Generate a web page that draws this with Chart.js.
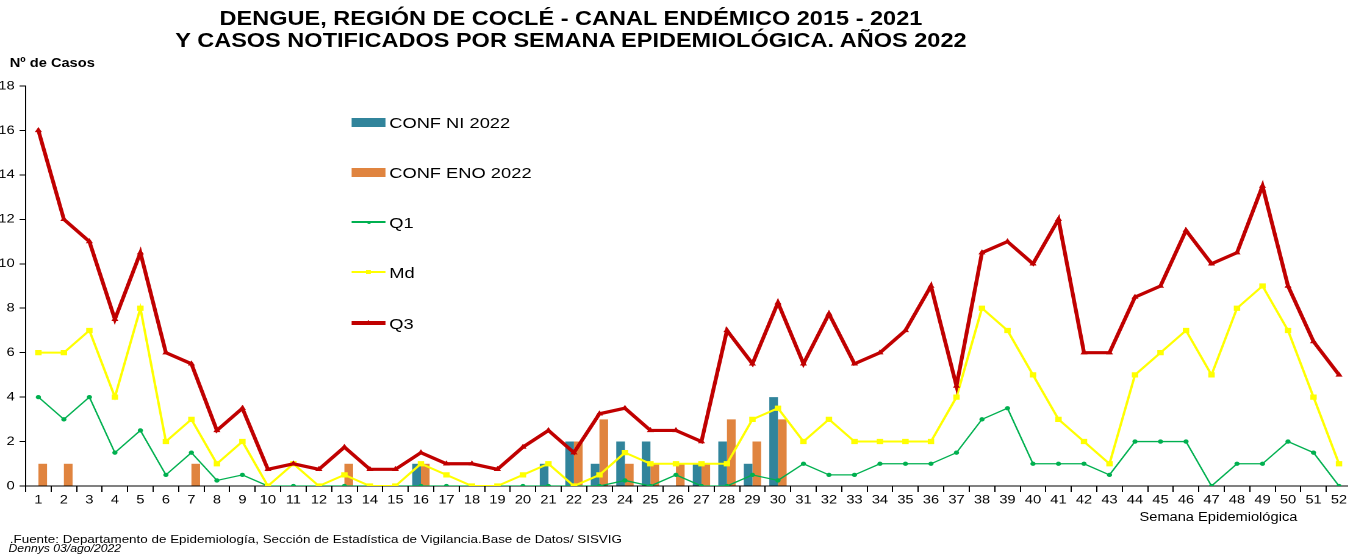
<!DOCTYPE html>
<html lang="es">
<head>
<meta charset="utf-8">
<title>Dengue Coclé - Canal endémico 2022</title>
<script src="https://cdn.jsdelivr.net/npm/chart.js@4.4.1/dist/chart.umd.min.js"></script>
<style>
    html, body { margin: 0; padding: 0; background: #fff; overflow: hidden; }
    body { width: 1348px; height: 555px; font-family: Arial, "Liberation Sans", sans-serif; color: #000; }
    /* la imagen original está estirada a lo ancho */
    #hoja { position: absolute; left: 0; top: 0; width: 1105px; height: 555px; transform: scaleX(1.22); transform-origin: 0 0; }
    #titulo { position: absolute; left: 0; top: 8px; width: 936px; text-align: center; font-weight: bold; font-size: 19.3px; line-height: 22px; }
    #ejeY { position: absolute; left: 8px; top: 56px; font-weight: bold; font-size: 12px; }
    #grafico { position: absolute; left: -8px; top: 0; width: 1122px; height: 555px; }
    #leyenda { position: absolute; left: 288px; top: 0; }
    .item { position: absolute; left: 0; height: 20px; display: flex; align-items: center; white-space: nowrap; font-size: 15px; }
    .muestra { position: relative; width: 28px; height: 9px; margin-right: 3px; display: flex; align-items: center; justify-content: center; }
    .linea { position: absolute; left: 0; width: 28px; }
    .marca { position: relative; }
    #ejeX { position: absolute; left: 934px; top: 510px; font-size: 12px; }
    #fuente { position: absolute; left: 8px; top: 533px; font-size: 11px; line-height: 12px; }
    #autor { position: absolute; left: 7px; top: 544px; font-style: italic; font-size: 10px; line-height: 10px; }
</style>
</head>
<body>
<div id="hoja">
    <div id="titulo">DENGUE, REGIÓN DE COCLÉ - CANAL ENDÉMICO 2015 - 2021<br>Y CASOS NOTIFICADOS POR SEMANA EPIDEMIOLÓGICA. AÑOS 2022</div>
    <div id="ejeY">Nº de Casos</div>
    <div id="grafico"><canvas id="canalChart"></canvas></div>
    <div id="leyenda"></div>
    <div id="ejeX">Semana Epidemiológica</div>
    <div id="fuente">.Fuente: Departamento de Epidemiología, Sección de Estadística de Vigilancia.Base de Datos/ SISVIG</div>
    <div id="autor">Dennys 03/ago/2022</div>
</div>

<script>
const semanas = ['1','2','3','4','5','6','7','8','9','10','11','12','13','14','15','16','17','18','19','20',
    '21','22','23','24','25','26','27','28','29','30','31','32','33','34','35','36','37','38','39','40',
    '41','42','43','44','45','46','47','48','49','50','51','52'];

const confNI = [0,0,0,0,0,0,0,0,0,0, 0,0,0,0,0,1,0,0,0,0, 1,2,1,2,2,0,1,2,1,4,
    0,0,0,0,0,0,0,0,0,0, 0,0,0,0,0,0,0,0,0,0, 0,0];
const confENO = [1,1,0,0,0,0,1,0,0,0, 0,0,1,0,0,1,0,0,0,0, 0,2,3,1,1,1,1,3,2,3,
    0,0,0,0,0,0,0,0,0,0, 0,0,0,0,0,0,0,0,0,0, 0,0];
const q1 = [4,3,4,1.5,2.5,0.5,1.5,0.25,0.5,0, 0,0,0,0,0,0,0,0,0,0, 0,0,0,0.25,0,0.5,0,0,0.5,0.25,
    1,0.5,0.5,1,1,1,1.5,3,3.5,1, 1,1,0.5,2,2,2,0,1,1,2, 1.5,0];
const mediana = [6,6,7,4,8,2,3,1,2,0, 1,0,0.5,0,0,1,0.5,0,0,0.5, 1,0,0.5,1.5,1,1,1,1,3,3.5,
    2,3,2,2,2,2,4,8,7,5, 3,2,1,5,6,7,5,8,9,7, 4,1];
const q3 = [16,12,11,7.5,10.5,6,5.5,2.5,3.5,0.75, 1,0.75,1.75,0.75,0.75,1.5,1,1,0.75,1.75,
    2.5,1.5,3.25,3.5,2.5,2.5,2,7,5.5,8.25, 5.5,7.75,5.5,6,7,9,4.5,10.5,11,10,
    12,6,6,8.5,9,11.5,10,10.5,13.5,9, 6.5,5];

const yMax = 18;
const yPaso = 2;

Chart.defaults.font.family = 'Arial, "Liberation Sans", sans-serif';
Chart.defaults.color = '#000';

let canalChart = null;

function crearGrafico() {
    const ctx = document.getElementById('canalChart').getContext('2d');
    const data = {
        labels: semanas,
        datasets: [
            {type: 'bar', label: 'CONF NI 2022', data: confNI, backgroundColor: '#31849B', order: 3,
                categoryPercentage: 0.68, barPercentage: 1},
            {type: 'bar', label: 'CONF ENO 2022', data: confENO, backgroundColor: '#E0843F', order: 3,
                categoryPercentage: 0.68, barPercentage: 1},
            {type: 'line', label: 'Q1', data: q1, borderColor: '#00B050', backgroundColor: '#00B050',
                borderWidth: 1.3, pointStyle: 'circle', pointRadius: 1.5, tension: 0, order: 2},
            {type: 'line', label: 'Md', data: mediana, borderColor: '#FFFF00', backgroundColor: '#FFFF00',
                borderWidth: 2, pointStyle: 'rect', pointRadius: 2.3, tension: 0, order: 1},
            {type: 'line', label: 'Q3', data: q3, borderColor: '#C00000', backgroundColor: '#C00000',
                borderWidth: 3.2, pointStyle: 'triangle', pointRadius: 2.4, pointBorderWidth: 1, tension: 0, order: 0}
        ]
    };
    const config = {
        type: 'bar',
        data: data,
        options: {
            responsive: true,
            maintainAspectRatio: false,
            animation: false,
            devicePixelRatio: 2,
            layout: {padding: {top: 86, left: 0, right: 0, bottom: 0}},
            plugins: {legend: {display: false}, tooltip: {enabled: false}},
            scales: {
                x: {
                    offset: true,
                    grid: {offset: true, drawOnChartArea: false, drawTicks: true, tickLength: 6, color: '#000'},
                    border: {display: true, color: '#000', width: 1},
                    ticks: {font: {size: 12}, padding: 1, maxRotation: 0, autoSkip: false},
                    afterFit: function(scale) { scale.height = 69; }
                },
                y: {
                    min: 0,
                    max: yMax,
                    grid: {drawOnChartArea: false, drawTicks: true, tickLength: 5, color: '#000'},
                    border: {display: true, color: '#000', width: 1},
                    ticks: {stepSize: yPaso, font: {size: 12}, padding: 4},
                    afterFit: function(scale) { scale.width = 29; }
                }
            }
        }
    };
    canalChart = new Chart(ctx, config);
    crearLeyenda(canalChart);
}

// leyenda dentro del área del gráfico, como en el original
function crearLeyenda(chart) {
    const cont = document.getElementById('leyenda');
    const posiciones = [122, 172, 222, 272, 323];
    chart.data.datasets.forEach(function(ds, i) {
        const item = document.createElement('div');
        item.className = 'item';
        item.style.top = (posiciones[i] - 10) + 'px';
        const muestra = document.createElement('span');
        muestra.className = 'muestra';
        if (ds.type === 'bar') {
            muestra.style.background = ds.backgroundColor;
        } else {
            const linea = document.createElement('span');
            linea.className = 'linea';
            linea.style.height = ds.borderWidth + 'px';
            linea.style.background = ds.borderColor;
            muestra.appendChild(linea);
            const marca = document.createElement('span');
            marca.className = 'marca';
            const r = ds.pointRadius;
            if (ds.pointStyle === 'triangle') {
                marca.style.width = '0';
                marca.style.height = '0';
                marca.style.top = '-1px';
                marca.style.borderLeft = (r + 1) + 'px solid transparent';
                marca.style.borderRight = (r + 1) + 'px solid transparent';
                marca.style.borderBottom = (r * 2.2) + 'px solid ' + ds.borderColor;
            } else {
                marca.style.width = (r * 2) + 'px';
                marca.style.height = (r * 2) + 'px';
                marca.style.background = ds.borderColor;
                if (ds.pointStyle === 'circle') marca.style.borderRadius = '50%';
            }
            muestra.appendChild(marca);
        }
        const texto = document.createElement('span');
        texto.textContent = ds.label;
        item.appendChild(muestra);
        item.appendChild(texto);
        cont.appendChild(item);
    });
}

document.addEventListener('DOMContentLoaded', crearGrafico);
</script>
</body>
</html>
